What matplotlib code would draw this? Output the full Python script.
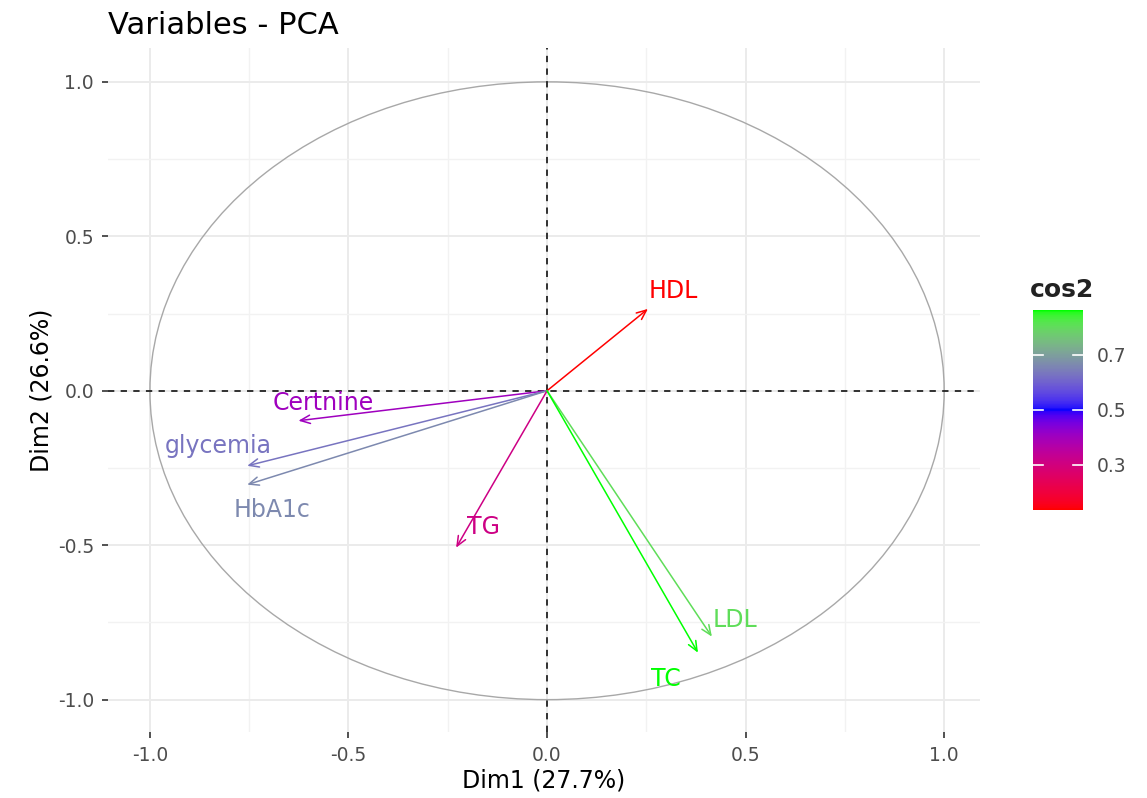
import numpy as np
import matplotlib
matplotlib.use("Agg")
import matplotlib.pyplot as plt
from matplotlib.colors import ListedColormap, Normalize
from matplotlib.patches import Circle
import matplotlib.cm as cm

# ---- data ----
variables = ["HDL", "Certnine", "glycemia", "HbA1c", "TG", "LDL", "TC"]
dim1 = [0.254, -0.626, -0.755, -0.755, -0.229, 0.415, 0.380]
dim2 = [0.265, -0.097, -0.243, -0.304, -0.508, -0.796, -0.848]
xlabel = "Dim1 (27.7%)"
ylabel = "Dim2 (26.6%)"
title = "Variables - PCA"
major_ticks = [-1.0, -0.5, 0.0, 0.5, 1.0]
cbar_ticks = [0.3, 0.5, 0.7]

# label offsets in points (repel-like placement)
label_offsets = {
    "HDL": (18, 13), "Certnine": (18, 13), "glycemia": (-21, 14),
    "HbA1c": (18, -18), "TG": (20, 15), "LDL": (17, 12), "TC": (-23, -19),
}

# ---- Lab-interpolated gradient red -> blue -> green (like ggplot gradientn) ----
def srgb_to_lab(rgb):
    rgb = np.asarray(rgb, float)
    lin = np.where(rgb <= 0.04045, rgb / 12.92, ((rgb + 0.055) / 1.055) ** 2.4)
    M = np.array([[0.4124, 0.3576, 0.1805],
                  [0.2126, 0.7152, 0.0722],
                  [0.0193, 0.1192, 0.9505]])
    xyz = lin @ M.T
    xyz = xyz / np.array([0.95047, 1.0, 1.08883])
    f = np.where(xyz > 0.008856, np.cbrt(xyz), 7.787 * xyz + 16 / 116)
    L = 116 * f[..., 1] - 16
    a = 500 * (f[..., 0] - f[..., 1])
    b = 200 * (f[..., 1] - f[..., 2])
    return np.stack([L, a, b], -1)

def lab_to_srgb(lab):
    L, a, b = lab[..., 0], lab[..., 1], lab[..., 2]
    fy = (L + 16) / 116
    fx = fy + a / 500
    fz = fy - b / 200
    f = np.stack([fx, fy, fz], -1)
    xyz = np.where(f ** 3 > 0.008856, f ** 3, (f - 16 / 116) / 7.787)
    xyz = xyz * np.array([0.95047, 1.0, 1.08883])
    Minv = np.array([[3.2406, -1.5372, -0.4986],
                     [-0.9689, 1.8758, 0.0415],
                     [0.0557, -0.2040, 1.0570]])
    lin = xyz @ Minv.T
    lin = np.clip(lin, 0, 1)
    rgb = np.where(lin <= 0.0031308, 12.92 * lin, 1.055 * lin ** (1 / 2.4) - 0.055)
    return np.clip(rgb, 0, 1)

stops = srgb_to_lab(np.array([[1, 0, 0], [0, 0, 1], [0, 1, 0]], float))
t = np.linspace(0, 1, 256)
seg = np.where(t < 0.5, 0, 1)
local = np.where(t < 0.5, t / 0.5, (t - 0.5) / 0.5)
labs = stops[seg] * (1 - local)[:, None] + stops[seg + 1] * local[:, None]
cmap = ListedColormap(lab_to_srgb(labs))

x = np.array(dim1)
y = np.array(dim2)
cos2 = x ** 2 + y ** 2
norm = Normalize(vmin=cos2.min(), vmax=cos2.max())

# ---- figure ----
plt.rcParams["font.family"] = ["DejaVu Sans"]
fig = plt.figure(figsize=(11.47, 7.98), dpi=100)
ax = fig.add_axes([0.094, 0.083, 0.760, 0.857])
ax.set_xlim(-1.106, 1.089)
ax.set_ylim(-1.104, 1.11)

ax.set_xticks(major_ticks)
ax.set_yticks(major_ticks)
ax.set_xticks([-0.75, -0.25, 0.25, 0.75], minor=True)
ax.set_yticks([-0.75, -0.25, 0.25, 0.75], minor=True)
ax.grid(which="major", color="#ebebeb", lw=1.4)
ax.grid(which="minor", color="#f2f2f2", lw=1.0)
ax.set_axisbelow(True)
for s in ax.spines.values():
    s.set_visible(False)
ax.tick_params(which="major", length=4, width=1.2, color="#333333",
               labelsize=13.5, labelcolor="#4d4d4d", pad=6)
ax.tick_params(which="minor", length=0)
ax.set_xticklabels([f"{v:.1f}" for v in major_ticks])
ax.set_yticklabels([f"{v:.1f}" for v in major_ticks])

circ = Circle((0, 0), 1.0, fill=False, ec="#a8a8a8", lw=1.0, zorder=2)
ax.add_patch(circ)
ax.axhline(0, color="#222222", ls=(0, (3.5, 3.5)), lw=1.3, zorder=2)
ax.axvline(0, color="#222222", ls=(0, (3.5, 3.5)), lw=1.3, zorder=2)

for name, xi, yi, c in zip(variables, x, y, cos2):
    col = cmap(norm(c))
    ax.annotate("", xy=(xi, yi), xytext=(0, 0),
                arrowprops=dict(arrowstyle="->,head_length=0.7,head_width=0.3",
                                color=col, lw=1.1, shrinkA=0, shrinkB=0),
                zorder=3)
    dx, dy = label_offsets[name]
    ax.annotate(name, xy=(xi, yi), xytext=(dx, dy), textcoords="offset points",
                ha="center", va="center", fontsize=17, color=col, zorder=4)

ax.set_xlabel(xlabel, fontsize=17, color="black", labelpad=3)
ax.set_ylabel(ylabel, fontsize=17, color="black", labelpad=3)
fig.text(0.094, 0.968, title, fontsize=22, ha="left", va="center")

# colorbar
cax = fig.add_axes([0.9006, 0.361, 0.0436, 0.2506])
cb = fig.colorbar(cm.ScalarMappable(norm=norm, cmap=cmap), cax=cax, ticks=cbar_ticks)
cb.outline.set_visible(False)
cb.ax.tick_params(length=0, labelsize=13.5, labelcolor="#4d4d4d", pad=10)
for tv in cbar_ticks:
    cax.plot([0, 0.2], [tv, tv], color="white", lw=1.2, transform=cax.get_yaxis_transform())
    cax.plot([0.8, 1.0], [tv, tv], color="white", lw=1.2, transform=cax.get_yaxis_transform())
fig.text(0.898, 0.637, "cos2", fontsize=18, fontweight="bold", color="#222222",
         ha="left", va="center")

fig.savefig("out.png", dpi=100)
